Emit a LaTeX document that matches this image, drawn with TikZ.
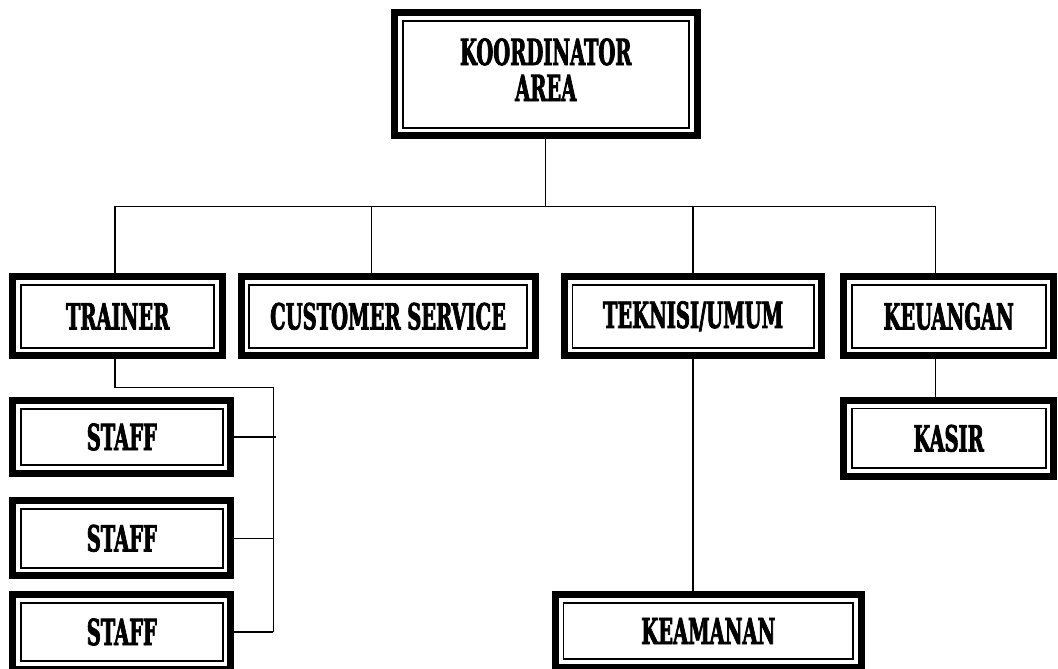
\documentclass[tikz,border=0pt]{standalone}
\usepackage{fontspec}
\newfontfamily\orgfont[FakeStretch=0.6,FakeBold=2]{DejaVu Serif Condensed Bold}
\begin{document}
\begin{tikzpicture}[x=1pt,y=-1pt,
  orgbox/.style={draw=black, line width=7pt, outer sep=0pt, fill=white, inner sep=0pt, align=center,
    font=\orgfont\fontsize{36}{36}\selectfont},
  innerline/.style={draw=black, line width=1.8pt},
  conn/.style={line width=1.3pt}]
\clip (0,0) rectangle (1058,669);
\fill[white] (0,0) rectangle (1058,669);
\node[orgbox, minimum width=302.5pt, minimum height=123.3pt] (koord) at (545.75,74.15) {KOORDINATOR\\AREA\rule[-9pt]{0pt}{9pt}};
\node[orgbox, minimum width=209.7pt, minimum height=79pt] (trainer) at (117.65,316.3) {TRAINER};
\node[orgbox, minimum width=294.2pt, minimum height=79pt] (cs) at (388.1,316.3) {CUSTOMER SERVICE};
\node[orgbox, minimum width=257.6pt, minimum height=79pt] (tek) at (693,316.3) {TEKNISI/UMUM};
\node[orgbox, minimum width=210.3pt, minimum height=79pt] (keu) at (948.65,316.3) {KEUANGAN};
\node[orgbox, minimum width=210.3pt, minimum height=76.3pt] (kasir) at (948.65,438.35) {KASIR};
\node[orgbox, minimum width=218pt, minimum height=72.4pt] (staffa) at (121.8,437) {STAFF};
\node[orgbox, minimum width=218pt, minimum height=75pt] (staffb) at (121.8,538.3) {STAFF};
\node[orgbox, minimum width=218pt, minimum height=75pt] (staffc) at (121.8,632) {STAFF};
\node[orgbox, minimum width=306.3pt, minimum height=73pt] (keam) at (708.35,631) {KEAMANAN};
\foreach \nm in {koord,trainer,cs,tek,keu,kasir,staffa,staffb,staffc,keam}{
  \draw[innerline] ([shift={(8.2,8.2)}]\nm.north west) rectangle ([shift={(-8.2,-8.2)}]\nm.south east);
}
\coordinate (bus) at (0,206.7);
\coordinate (rail) at (273.3,387.3);
\draw[conn] (koord.south) -- (koord.south |- bus);
\draw[conn] ([xshift=-2.6pt]trainer.north) |- ([xshift=-13.3pt]keu.north |- bus) -- ([xshift=-13.3pt]keu.north);
\draw[conn] ([xshift=-16.8pt]cs.north) -- ([xshift=-16.8pt]cs.north |- bus);
\draw[conn] (tek.north) -- (tek.north |- bus);
\draw[conn] ([xshift=-2.6pt]trainer.south) |- (rail) -- (rail |- staffc.east);
\draw[conn] (staffa.east) -- ([xshift=2.7pt]staffa.east -| rail);
\draw[conn] (staffb.east) -- (staffb.east -| rail);
\draw[conn] (staffc.east) -- (staffc.east -| rail);
\draw[conn] (tek.south) -- (tek.south |- keam.north);
\draw[conn] ([xshift=-13.3pt]keu.south) -- ([xshift=-13.3pt]kasir.north);
\end{tikzpicture}
\end{document}
